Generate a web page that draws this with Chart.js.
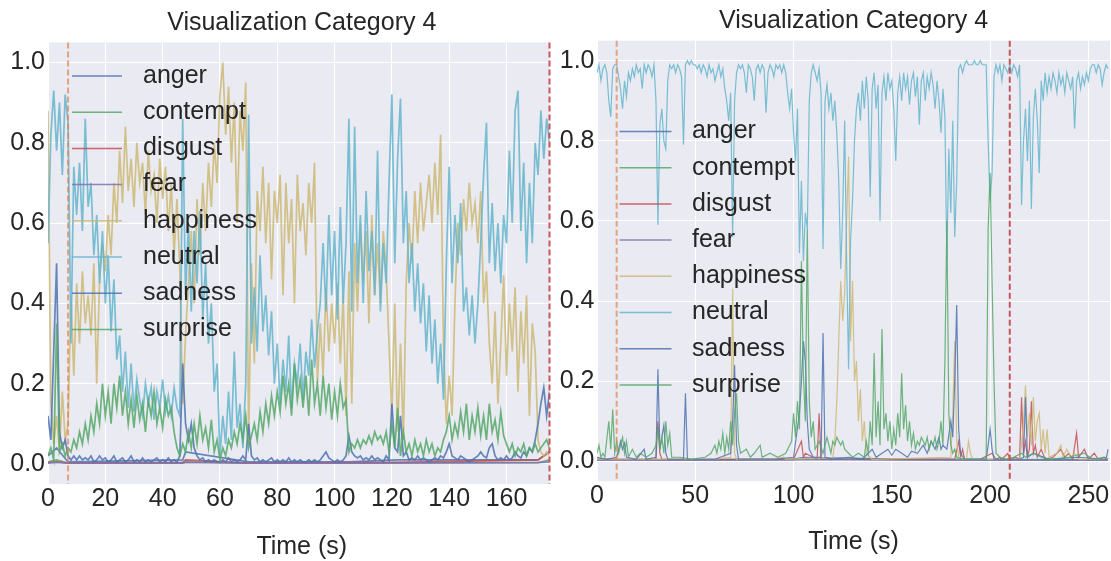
<!DOCTYPE html>
<html>
<head>
<meta charset="utf-8">
<script src="https://cdn.jsdelivr.net/npm/chart.js@4.4.1/dist/chart.umd.min.js"></script>
<style>
  html, body { margin: 0; padding: 0; background: #fff; }
  #wrap { position: relative; width: 1111px; height: 561px; overflow: hidden; }
  #c1 { position: absolute; left: 0; top: 0; }
  #c2 { position: absolute; left: 553px; top: 0; }
</style>
</head>
<body>
<div id="wrap">
  <canvas id="c1" width="553" height="561"></canvas>
  <canvas id="c2" width="558" height="561"></canvas>
</div>
<script>
// emotion labels and colours (seaborn "deep" cycle)
const emotions = ['anger', 'contempt', 'disgust', 'fear', 'happiness', 'neutral', 'sadness', 'surprise'];
const colors = ['#4C72B0', '#55A868', '#C44E52', '#8172B2', '#CCB974', '#64B5CD', '#4C72B0', '#55A868'];

// ---- left panel: one value per second, t = 0 .. 175 ----
const leftNeutral = [
  0.55, 0.82, 0.93, 0.78, 0.9, 0.72, 0.92, 0.85, 0.3, 0.74,
  0.62, 0.75, 0.58, 0.86, 0.64, 0.7, 0.52, 0.62, 0.45, 0.58,
  0.4, 0.52, 0.33, 0.46, 0.26, 0.32, 0.18, 0.28, 0.14, 0.25,
  0.13, 0.21, 0.16, 0.12, 0.2, 0.15, 0.19, 0.11, 0.18, 0.14,
  0.21, 0.13, 0.17, 0.12, 0.19, 0.14, 0.12, 0.86, 0.42, 0.6,
  0.38, 0.58, 0.45, 0.63, 0.36, 0.5, 0.3, 0.4, 0.18, 0.25,
  0.02, 0.12, 0.05, 0.18, 0.06, 0.28, 0.09, 0.15, 0.04, 0.2,
  0.87, 0.3, 0.44, 0.28, 0.52, 0.33, 0.42, 0.27, 0.38, 0.2,
  0.3, 0.15, 0.26, 0.18, 0.32, 0.14, 0.25, 0.2, 0.3, 0.16,
  0.28, 0.22, 0.36, 0.24, 0.33, 0.4, 0.55, 0.38, 0.62, 0.42,
  0.58, 0.36, 0.64, 0.4, 0.55, 0.86, 0.38, 0.84, 0.45, 0.62,
  0.4, 0.68, 0.48, 0.58, 0.42, 0.78, 0.38, 0.55, 0.45, 0.7,
  0.92, 0.5, 0.76, 0.91, 0.55, 0.68, 0.45, 0.55, 0.38, 0.5,
  0.35, 0.45, 0.28, 0.42, 0.25, 0.36, 0.2, 0.3, 0.16, 0.5,
  0.74, 0.45, 0.62, 0.5, 0.65, 0.38, 0.44, 0.32, 0.42, 0.3,
  0.4, 0.55, 0.72, 0.85, 0.5, 0.65, 0.48, 0.6, 0.45, 0.62,
  0.55, 0.78, 0.6, 0.88, 0.93, 0.58, 0.75, 0.5, 0.7, 0.55,
  0.8, 0.72, 0.88, 0.76, 0.86, 0.8
];
const leftHappiness = [
  0.88, 0.15, 0.05, 0.12, 0.03, 0.18, 0.06, 0.1, 0.42, 0.22,
  0.45, 0.3, 0.48, 0.35, 0.42, 0.32, 0.5, 0.2, 0.46, 0.55,
  0.48, 0.62, 0.52, 0.7, 0.6, 0.78, 0.65, 0.84, 0.68, 0.76,
  0.64, 0.8, 0.7, 0.75, 0.62, 0.78, 0.68, 0.72, 0.6, 0.76,
  0.66, 0.74, 0.58, 0.7, 0.52, 0.66, 0.48, 0.15, 0.32, 0.45,
  0.58, 0.4, 0.66, 0.52, 0.7, 0.58, 0.75, 0.64, 0.8, 0.7,
  0.92, 1.0, 0.82, 0.94, 0.75, 0.9, 0.6, 0.88, 0.78, 0.95,
  0.05, 0.5, 0.25, 0.68, 0.58, 0.74, 0.55, 0.7, 0.46, 0.68,
  0.6, 0.72, 0.42, 0.7, 0.55, 0.66, 0.4, 0.72, 0.58, 0.65,
  0.52, 0.7, 0.6, 0.75, 0.2, 0.35, 0.22, 0.44, 0.28, 0.4,
  0.3, 0.45, 0.25, 0.42, 0.12, 0.48, 0.15, 0.55, 0.38, 0.6,
  0.45, 0.58, 0.35, 0.62, 0.42, 0.55, 0.4, 0.58, 0.48, 0.3,
  0.12, 0.4, 0.08, 0.3, 0.06, 0.45, 0.6, 0.5, 0.68, 0.55,
  0.7, 0.58, 0.65, 0.72, 0.6, 0.75, 0.62, 0.82, 0.3, 0.1,
  0.22, 0.12, 0.4, 0.6, 0.52, 0.66, 0.58, 0.7, 0.6, 0.65,
  0.55, 0.68, 0.4, 0.48, 0.3, 0.2, 0.38, 0.15, 0.3, 0.47,
  0.22, 0.4, 0.28, 0.44, 0.18, 0.38, 0.25, 0.42, 0.12, 0.35,
  0.28, 0.06, 0.03, 0.02, 0.03, 0.02
];
const leftSurprise = [
  0.02, 0.04, 0.01, 0.35, 0.03, 0.05, 0.02, 0.04, 0.03, 0.06,
  0.04, 0.08, 0.05, 0.1, 0.06, 0.12, 0.08, 0.15, 0.1, 0.2,
  0.12, 0.18, 0.1, 0.2, 0.14, 0.22, 0.12, 0.18, 0.1, 0.16,
  0.09, 0.17, 0.11, 0.15, 0.08, 0.16, 0.12, 0.18, 0.1, 0.14,
  0.09, 0.16, 0.12, 0.14, 0.08, 0.04, 0.02, 0.05, 0.03, 0.08,
  0.04, 0.1, 0.05, 0.12, 0.06, 0.09, 0.04, 0.11, 0.03, 0.06,
  0.01, 0.04, 0.02, 0.06, 0.04, 0.08, 0.05, 0.1, 0.06, 0.12,
  0.04, 0.07, 0.1, 0.06, 0.13, 0.08, 0.15, 0.1, 0.17, 0.12,
  0.18, 0.13, 0.22, 0.15, 0.2, 0.12, 0.25, 0.16, 0.21, 0.14,
  0.22, 0.12, 0.26, 0.15, 0.2, 0.12, 0.22, 0.14, 0.2, 0.11,
  0.18, 0.12, 0.2, 0.14, 0.16, 0.03, 0.05, 0.04, 0.06, 0.04,
  0.06, 0.05, 0.07, 0.05, 0.08, 0.06, 0.07, 0.05, 0.08, 0.03,
  0.1, 0.04, 0.14, 0.02, 0.08, 0.03, 0.05, 0.02, 0.06, 0.03,
  0.05, 0.02, 0.06, 0.03, 0.05, 0.02, 0.04, 0.03, 0.06, 0.08,
  0.12, 0.06, 0.1, 0.07, 0.13, 0.08, 0.15, 0.06, 0.12, 0.08,
  0.14, 0.07, 0.12, 0.06, 0.15, 0.08, 0.11, 0.06, 0.13, 0.07,
  0.05, 0.03, 0.05, 0.02, 0.04, 0.03, 0.05, 0.02, 0.04, 0.03,
  0.05, 0.03, 0.04, 0.05, 0.06, 0.04
];
const leftSadness = [
  0.12, 0.06, 0.28, 0.5, 0.08, 0.04, 0.06, 0.02, 0.01, 0.02,
  0.01, 0.02, 0.01, 0.015, 0.01, 0.02, 0.005, 0.01, 0.02, 0.01,
  0.015, 0.005, 0.01, 0.02, 0.005, 0.01, 0.015, 0.005, 0.01, 0.02,
  0.005, 0.01, 0.005, 0.015, 0.005, 0.01, 0.005, 0.01, 0.015, 0.005,
  0.01, 0.005, 0.015, 0.005, 0.01, 0.005, 0.02, 0.25, 0.1, 0.06,
  0.1, 0.04, 0.02, 0.01, 0.015, 0.005, 0.01, 0.005, 0.01, 0.005,
  0.005, 0.01, 0.005, 0.015, 0.005, 0.01, 0.005, 0.01, 0.02, 0.01,
  0.1, 0.02, 0.01, 0.015, 0.005, 0.01, 0.005, 0.01, 0.015, 0.005,
  0.01, 0.005, 0.01, 0.005, 0.015, 0.005, 0.01, 0.005, 0.01, 0.005,
  0.005, 0.01, 0.005, 0.01, 0.005, 0.01, 0.02, 0.03, 0.015, 0.01,
  0.005, 0.01, 0.005, 0.01, 0.02, 0.07, 0.03, 0.02, 0.015, 0.02,
  0.01, 0.015, 0.01, 0.02, 0.01, 0.015, 0.01, 0.005, 0.02, 0.01,
  0.15, 0.04, 0.03, 0.12, 0.02, 0.03, 0.01, 0.015, 0.01, 0.02,
  0.01, 0.015, 0.01, 0.005, 0.01, 0.015, 0.01, 0.02, 0.015, 0.03,
  0.05, 0.02, 0.015, 0.01, 0.02, 0.015, 0.01, 0.005, 0.01, 0.015,
  0.02, 0.03, 0.02, 0.015, 0.04, 0.05, 0.02, 0.01, 0.015, 0.01,
  0.02, 0.01, 0.015, 0.03, 0.02, 0.015, 0.03, 0.02, 0.04, 0.03,
  0.06, 0.1, 0.15, 0.19, 0.12, 0.18
];
// near-zero emotions on the left, [time, value]
const leftAnger = [[0, 0.02], [3, 0.04], [7, 0.005], [47, 0.01], [48, 0.03], [70, 0.005], [105, 0.005], [122, 0.01], [171, 0.01], [175, 0.03]];
const leftContempt = [[0, 0.005], [3, 0.01], [7, 0.002], [47, 0.002], [48, 0.005], [70, 0.002], [105, 0.002], [122, 0.003], [171, 0.003], [175, 0.01]];
const leftDisgust = [[0, 0.003], [3, 0.005], [7, 0.002], [47, 0.004], [48, 0.01], [70, 0.002], [105, 0.003], [122, 0.004], [171, 0.01], [175, 0.03]];
const leftFear = [[0, 0.002], [3, 0.004], [7, 0.002], [47, 0.002], [48, 0.004], [70, 0.002], [105, 0.002], [122, 0.002], [171, 0.003], [175, 0.005]];

// ---- right panel: neutral one value per second, t = 0 .. 260 ----
const rightNeutral = [
  0.97, 0.99, 0.95, 0.98, 0.99, 0.97, 0.9, 0.86, 0.98, 0.99,
  0.99, 0.96, 0.93, 0.88, 0.95, 0.91, 0.97, 0.95, 0.98, 0.96,
  0.99, 0.97, 0.98, 0.93, 0.99, 0.97, 0.99, 0.98, 0.96, 0.99,
  0.9, 0.59, 0.84, 0.88, 0.8, 0.78, 0.95, 0.99, 0.98, 0.99,
  0.97, 0.99, 0.98, 0.96, 0.79, 0.99, 1.0, 0.99, 1.0, 0.99,
  0.99, 0.98, 0.99, 0.97, 0.99, 0.98, 0.96, 0.99, 0.97, 0.98,
  0.95, 0.97, 0.99, 0.96, 0.98, 0.93, 0.9, 0.85, 0.92, 0.56,
  0.9, 0.97, 0.99, 0.98, 0.99, 0.97, 0.92, 0.99, 0.98, 0.96,
  0.9, 0.98, 0.99, 0.97, 0.99, 0.98, 0.87, 0.97, 0.99, 0.98,
  0.96, 0.99, 0.98, 0.99, 0.97, 0.99, 0.97, 0.92, 0.88, 0.93,
  0.82, 0.75, 0.88, 0.52, 0.7, 0.5, 0.62, 0.58, 0.9, 0.97,
  0.99, 0.97, 0.95, 0.98, 0.92, 0.53, 0.9, 0.94, 0.88, 0.92,
  0.85, 0.9, 0.82, 0.7, 0.48, 0.62, 0.85, 0.5, 0.23, 0.55,
  0.65, 0.8, 0.88, 0.92, 0.85, 0.95, 0.88, 0.96, 0.9, 0.66,
  0.93, 0.97, 0.88, 0.94, 0.6, 0.92, 0.96, 0.9, 0.97, 0.93,
  0.95, 0.88, 0.75, 0.92, 0.96, 0.9, 0.97, 0.93, 0.96, 0.89,
  0.95, 0.97, 0.91, 0.96, 0.84, 0.95, 0.97, 0.9, 0.96, 0.93,
  0.97, 0.94, 0.88, 0.95, 0.9, 0.82, 0.93, 0.86, 0.5, 0.78,
  0.62, 0.85, 0.56, 0.7, 0.98, 0.99, 0.97, 0.99, 1.0, 0.99,
  0.99, 0.99, 1.0, 0.99, 0.99, 1.0, 0.99, 0.99, 0.99, 0.8,
  0.65, 0.72, 0.96, 0.99, 0.97, 0.99, 0.95, 0.99, 0.98, 0.97,
  0.99, 0.97, 0.99, 0.98, 0.96, 0.99, 0.64, 0.8, 0.88, 0.75,
  0.9, 0.63, 0.86, 0.93, 0.85, 0.72, 0.95, 0.9, 0.97, 0.92,
  0.96, 0.93, 0.97, 0.95, 0.92, 0.97, 0.94, 0.96, 0.92, 0.97,
  0.95, 0.93, 0.96, 0.83, 0.95, 0.97, 0.93, 0.96, 0.94, 0.97,
  0.95, 0.98, 0.99, 0.99, 0.97, 0.99, 0.98, 0.94, 0.97, 0.99, 0.98
];
// spiky emotions on the right, [time, value]
const rightSurprise = [
  [0, 0.02], [1, 0.04], [2, 0.01], [3, 0.02], [4, 0.01], [6, 0.1], [7, 0.03], [8, 0.13], [9, 0.02], [10, 0.05],
  [11, 0.02], [13, 0.06], [14, 0.02], [15, 0.05], [16, 0.01], [18, 0.03], [20, 0.01], [22, 0.02], [25, 0.01], [28, 0.02],
  [30, 0.04], [31, 0.08], [32, 0.03], [33, 0.06], [34, 0.02], [35, 0.1], [36, 0.04], [37, 0.07], [38, 0.01], [42, 0.01],
  [48, 0.005], [55, 0.01], [58, 0.02], [60, 0.04], [61, 0.02], [62, 0.05], [63, 0.03], [64, 0.07], [65, 0.02], [66, 0.06],
  [67, 0.03], [68, 0.1], [69, 0.04], [70, 0.12], [71, 0.17], [72, 0.05], [73, 0.02], [76, 0.03], [78, 0.01], [80, 0.02],
  [83, 0.04], [84, 0.01], [88, 0.02], [92, 0.01], [96, 0.02], [99, 0.05], [100, 0.12], [101, 0.06], [102, 0.15], [103, 0.08],
  [104, 0.5], [105, 0.22], [106, 0.1], [107, 0.58], [108, 0.15], [109, 0.06], [110, 0.1], [111, 0.03], [113, 0.05], [115, 0.02],
  [117, 0.06], [119, 0.02], [120, 0.05], [121, 0.04], [122, 0.06], [123, 0.05], [124, 0.04], [125, 0.05], [126, 0.03], [128, 0.02],
  [130, 0.01], [133, 0.02], [136, 0.01], [137, 0.05], [138, 0.02], [139, 0.1], [140, 0.04], [141, 0.27], [142, 0.06], [143, 0.15],
  [144, 0.04], [145, 0.33], [146, 0.08], [147, 0.12], [148, 0.05], [149, 0.1], [150, 0.03], [151, 0.08], [152, 0.04], [153, 0.12],
  [154, 0.06], [155, 0.22], [156, 0.08], [157, 0.14], [158, 0.05], [159, 0.1], [160, 0.04], [161, 0.07], [162, 0.03], [163, 0.05],
  [164, 0.04], [165, 0.06], [166, 0.05], [167, 0.04], [168, 0.06], [169, 0.03], [170, 0.05], [171, 0.04], [172, 0.06], [173, 0.03],
  [174, 0.05], [175, 0.1], [176, 0.04], [177, 0.25], [178, 0.6], [179, 0.12], [180, 0.04], [181, 0.02], [182, 0.03], [183, 0.01],
  [186, 0.005], [190, 0.005], [195, 0.005], [198, 0.01], [199, 0.58], [200, 0.72], [201, 0.45], [202, 0.2], [203, 0.02], [205, 0.01],
  [208, 0.005], [212, 0.01], [216, 0.02], [218, 0.01], [222, 0.02], [226, 0.01], [230, 0.005], [240, 0.01], [248, 0.02], [252, 0.005],
  [258, 0.01], [260, 0.005]
];
const rightSadness = [
  [0, 0.01], [5, 0.005], [10, 0.01], [12, 0.05], [13, 0.03], [14, 0.045], [15, 0.01], [20, 0.005], [24, 0.03], [25, 0.005],
  [30, 0.01], [31, 0.23], [32, 0.03], [33, 0.06], [34, 0.09], [35, 0.02], [36, 0.005], [44, 0.005], [45, 0.17], [46, 0.005],
  [60, 0.005], [68, 0.02], [69, 0.1], [70, 0.24], [71, 0.04], [72, 0.005], [90, 0.005], [100, 0.01], [103, 0.12], [104, 0.2],
  [105, 0.3], [106, 0.25], [107, 0.1], [108, 0.03], [110, 0.01], [114, 0.01], [115, 0.32], [116, 0.01], [120, 0.005], [128, 0.01],
  [135, 0.005], [138, 0.02], [140, 0.03], [142, 0.01], [145, 0.02], [148, 0.03], [150, 0.015], [152, 0.03], [155, 0.02], [158, 0.01],
  [160, 0.025], [163, 0.02], [166, 0.04], [168, 0.02], [170, 0.05], [172, 0.03], [174, 0.06], [175, 0.03], [176, 0.04], [178, 0.03],
  [180, 0.1], [181, 0.06], [182, 0.2], [183, 0.39], [184, 0.08], [185, 0.02], [187, 0.005], [198, 0.005], [199, 0.04], [200, 0.08],
  [201, 0.03], [202, 0.005], [215, 0.005], [217, 0.01], [218, 0.16], [219, 0.01], [222, 0.02], [230, 0.005], [245, 0.01], [259, 0.005],
  [260, 0.03]
];
const rightDisgust = [
  [0, 0.005], [30, 0.005], [31, 0.1], [32, 0.02], [33, 0.005], [100, 0.005], [104, 0.05], [105, 0.01], [106, 0.02], [112, 0.005],
  [113, 0.12], [114, 0.005], [120, 0.005], [150, 0.005], [182, 0.005], [184, 0.05], [185, 0.01], [186, 0.03], [187, 0.005], [195, 0.005],
  [201, 0.02], [203, 0.005], [205, 0.01], [206, 0.005], [209, 0.02], [210, 0.005], [213, 0.01], [215, 0.005], [216, 0.16], [217, 0.02],
  [218, 0.05], [219, 0.01], [220, 0.03], [221, 0.15], [222, 0.02], [223, 0.04], [224, 0.01], [226, 0.03], [228, 0.005], [232, 0.01],
  [236, 0.03], [238, 0.01], [240, 0.02], [242, 0.005], [244, 0.07], [245, 0.01], [248, 0.03], [250, 0.005], [253, 0.02], [255, 0.005],
  [258, 0.01], [260, 0.005]
];
const rightHappiness = [
  [0, 0.005], [60, 0.005], [68, 0.01], [69, 0.43], [70, 0.02], [71, 0.005], [90, 0.005], [95, 0.01], [96, 0.005], [120, 0.01],
  [121, 0.05], [122, 0.15], [123, 0.3], [124, 0.45], [125, 0.35], [126, 0.42], [127, 0.6], [128, 0.76], [129, 0.3], [130, 0.45],
  [131, 0.2], [132, 0.25], [133, 0.1], [134, 0.18], [135, 0.05], [136, 0.1], [137, 0.02], [140, 0.005], [180, 0.01], [181, 0.12],
  [182, 0.3], [183, 0.05], [184, 0.01], [188, 0.005], [189, 0.05], [190, 0.02], [191, 0.005], [215, 0.005], [216, 0.04], [217, 0.1],
  [218, 0.19], [219, 0.06], [220, 0.12], [221, 0.04], [222, 0.16], [223, 0.05], [224, 0.1], [225, 0.12], [226, 0.03], [227, 0.08],
  [228, 0.02], [229, 0.08], [230, 0.01], [234, 0.02], [236, 0.04], [237, 0.01], [239, 0.03], [241, 0.01], [243, 0.02], [245, 0.005],
  [260, 0.005]
];
const rightAnger = [[0, 0.005], [50, 0.004], [100, 0.006], [105, 0.01], [150, 0.006], [200, 0.005], [260, 0.004]];
const rightContempt = [[0, 0.004], [50, 0.003], [100, 0.004], [105, 0.006], [150, 0.004], [200, 0.003], [260, 0.003]];
const rightFear = [[0, 0.002], [50, 0.002], [100, 0.003], [105, 0.004], [150, 0.003], [200, 0.002], [260, 0.002]];

// ticks and markers
const leftXTicks = [0, 20, 40, 60, 80, 100, 120, 140, 160];
const rightXTicks = [0, 50, 100, 150, 200, 250];
const yTicks = [0, 0.2, 0.4, 0.6, 0.8, 1.0];
const leftMarks = [7, 175];
const rightMarks = [10, 210];

const FONT = '"Liberation Sans", Arial, Helvetica, sans-serif';
const TEXT = '#262626';
Chart.defaults.font.family = FONT;

function perSecond(vals) { return vals.map((v, i) => ({ x: i, y: v })); }
function fromPairs(p) { return p.map(d => ({ x: d[0], y: d[1] })); }

function alpha(hex, a) {
  const n = parseInt(hex.slice(1), 16);
  return `rgba(${n >> 16},${(n >> 8) & 255},${n & 255},${a})`;
}

function buildSets(series, width) {
  return series.map((data, i) => ({
    label: emotions[i],
    data: data,
    borderColor: alpha(colors[i], 0.85),
    borderWidth: width,
    pointRadius: 0,
    tension: 0,
    order: series.length - i
  }));
}

const bgPlugin = {
  id: 'plotBg',
  beforeDraw(chart) {
    const { ctx, chartArea: a } = chart;
    ctx.save();
    ctx.fillStyle = '#EAEAF2';
    ctx.fillRect(a.left, a.top, a.right - a.left, a.bottom - a.top);
    ctx.restore();
  }
};

const markPlugin = {
  id: 'marks',
  afterDatasetsDraw(chart, args, opts) {
    const { ctx, chartArea: a, scales: { x } } = chart;
    ctx.save();
    ctx.lineWidth = 2;
    ctx.setLineDash([6, 3]);
    opts.times.forEach((t, i) => {
      const px = x.getPixelForValue(t);
      ctx.strokeStyle = i === 0 ? 'rgba(221,132,82,0.7)' : 'rgba(196,78,82,0.95)';
      ctx.beginPath();
      ctx.moveTo(px, a.top);
      ctx.lineTo(px, a.bottom);
      ctx.stroke();
    });
    ctx.restore();
  }
};

// titles, x label and in-axes legend
const textPlugin = {
  id: 'texts',
  afterDraw(chart, args, o) {
    const { ctx, chartArea: a } = chart;
    ctx.save();
    ctx.font = '25px ' + FONT;
    ctx.fillStyle = TEXT;
    ctx.textAlign = 'center';
    ctx.textBaseline = 'middle';
    const cx = (a.left + a.right) / 2 + o.shift;
    ctx.fillText('Visualization Category 4', cx, o.titleY);
    ctx.fillText('Time (s)', cx, o.labelY);

    ctx.textAlign = 'left';
    chart.data.datasets.forEach((ds, i) => {
      const y = o.legendTop + i * o.legendStep;
      ctx.strokeStyle = ds.borderColor;
      ctx.lineWidth = 1.5;
      ctx.beginPath();
      ctx.moveTo(o.lineFrom, y);
      ctx.lineTo(o.lineTo, y);
      ctx.stroke();
      ctx.fillText(ds.label, o.textX, y);
    });
    ctx.restore();
  }
};

function makeChart(id, series, cfg) {
  return new Chart(document.getElementById(id), {
    type: 'line',
    data: { datasets: buildSets(series, cfg.lineWidth) },
    options: {
      responsive: false,
      animation: false,
      events: [],
      normalized: true,
      layout: { padding: { left: 0, right: cfg.padRight, top: cfg.top, bottom: 0 } },
      plugins: {
        legend: { display: false },
        tooltip: { enabled: false },
        title: { display: false },
        marks: { times: cfg.marks },
        texts: cfg.texts
      },
      scales: {
        x: {
          type: 'linear',
          min: 0,
          max: cfg.xMax,
          afterBuildTicks: s => { s.ticks = cfg.xTicks.map(v => ({ value: v })); },
          afterFit: s => { s.height = cfg.xHeight; },
          grid: { color: '#ffffff', lineWidth: 1, drawTicks: false },
          border: { display: false },
          ticks: { color: TEXT, font: { size: 25 }, padding: cfg.xPad, maxRotation: 0, autoSkip: false }
        },
        y: {
          type: 'linear',
          min: -0.05,
          max: 1.05,
          afterBuildTicks: s => { s.ticks = yTicks.map(v => ({ value: v })); },
          afterFit: s => { s.width = cfg.yWidth; },
          grid: { color: '#ffffff', lineWidth: 1, drawTicks: false },
          border: { display: false },
          ticks: { color: TEXT, font: { size: 25 }, padding: cfg.yPad, callback: v => v.toFixed(1) }
        }
      }
    },
    plugins: [bgPlugin, markPlugin, textPlugin]
  });
}

makeChart('c1', [
  fromPairs(leftAnger), fromPairs(leftContempt), fromPairs(leftDisgust), fromPairs(leftFear),
  perSecond(leftHappiness), perSecond(leftNeutral), perSecond(leftSadness), perSecond(leftSurprise)
], {
  xMax: 175, xTicks: leftXTicks, marks: leftMarks, lineWidth: 1.7,
  top: 42.4, padRight: 3.5, xHeight: 77, yWidth: 48, xPad: 0, yPad: 3,
  texts: { shift: 3, titleY: 23, labelY: 547, legendTop: 76, legendStep: 36.2, lineFrom: 72, lineTo: 122, textX: 143 }
});

makeChart('c2', [
  fromPairs(rightAnger), fromPairs(rightContempt), fromPairs(rightDisgust), fromPairs(rightFear),
  fromPairs(rightHappiness), perSecond(rightNeutral), fromPairs(rightSadness), fromPairs(rightSurprise)
], {
  xMax: 261, xTicks: rightXTicks, marks: rightMarks, lineWidth: 1.2,
  top: 40.7, padRight: 1, xHeight: 79.7, yWidth: 44, xPad: 0, yPad: 2.5,
  texts: { shift: 0, titleY: 21, labelY: 542, legendTop: 131.5, legendStep: 36.2, lineFrom: 66.5, lineTo: 118.5, textX: 139 }
});
</script>
</body>
</html>
